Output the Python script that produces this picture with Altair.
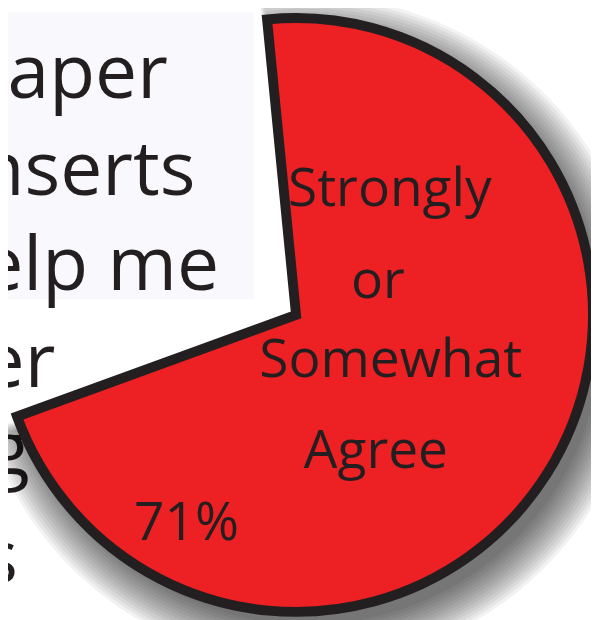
import math
import altair as alt
import pandas as pd

# ---- data ----
categories = ["Strongly or Somewhat Agree"]
shares = [71]
label_lines = ["Strongly", "or", "Somewhat", "Agree"]
percent_label = "71%"
title_fragments = ["paper", "nserts", "elp me", "er", "g", "s"]

df = pd.DataFrame({"category": categories, "value": shares})

# ---- layout / style constants ----
W, H = 591, 612
CX, CY = 292, 307
R = 301
START = math.radians(-5.6)
RED = "#ed2024"
INK = "#231f20"
FONT = "Open Sans"

theta_scale = alt.Scale(domain=[0, 100], range=[START, START + 2 * math.pi])

base = alt.Chart(df)

layers = []

# light panel behind the title text
layers.append(
    base.mark_rect(color="#f9f8fc").encode(
        x=alt.value(0), x2=alt.value(249), y=alt.value(0), y2=alt.value(291)
    )
)

# title fragments (cropped big text at left)
title_pos = [(162, 87), (190, 185), (214, 282), (48, 380), (22, 469), (10, 579)]
for txt, (tx, ty) in zip(title_fragments, title_pos):
    layers.append(
        base.mark_text(
            text=txt, align="right", baseline="alphabetic", font=FONT,
            fontSize=76, color=INK, clip=True,
        ).encode(x=alt.value(tx), y=alt.value(ty))
    )

# soft drop shadow: stacked translucent arcs
N = 14
for k in range(N):
    pad = 0.06 * k
    layers.append(
        base.transform_calculate(
            t0=f"{-pad}", t1=f"datum.value + {pad}"
        ).mark_arc(
            outerRadius=298 + 3.2 * k, color="#000000", opacity=0.052
        ).encode(
            theta=alt.Theta("t0:Q", scale=theta_scale, stack=False),
            theta2="t1:Q",
            x=alt.value(CX + 12), y=alt.value(CY + 16),
        )
    )

# main slice
layers.append(
    base.transform_calculate(t0="0", t1="datum.value").mark_arc(
        outerRadius=R, fill=RED, stroke=INK, strokeWidth=10, strokeJoin="miter"
    ).encode(
        theta=alt.Theta("t0:Q", scale=theta_scale, stack=False),
        theta2="t1:Q",
        x=alt.value(CX), y=alt.value(CY),
    )
)

# slice label lines
label_pos = [(387, 197), (375, 290), (388, 370), (373, 462)]
for txt, (tx, ty) in zip(label_lines, label_pos):
    layers.append(
        base.mark_text(
            text=txt, align="center", baseline="alphabetic", font=FONT,
            fontSize=54, color=INK,
        ).encode(x=alt.value(tx), y=alt.value(ty))
    )

layers.append(
    base.mark_text(
        text=percent_label, align="center", baseline="alphabetic", font=FONT,
        fontSize=54, color=INK,
    ).encode(x=alt.value(181), y=alt.value(535))
)

chart = alt.layer(*layers).properties(
    width=W, height=H, padding=0,
    autosize=alt.AutoSizeParams(type="none"),
    background="#ffffff",
).configure_view(strokeWidth=0)

chart.save("out.html", embed_options={"renderer": "svg", "actions": False})
